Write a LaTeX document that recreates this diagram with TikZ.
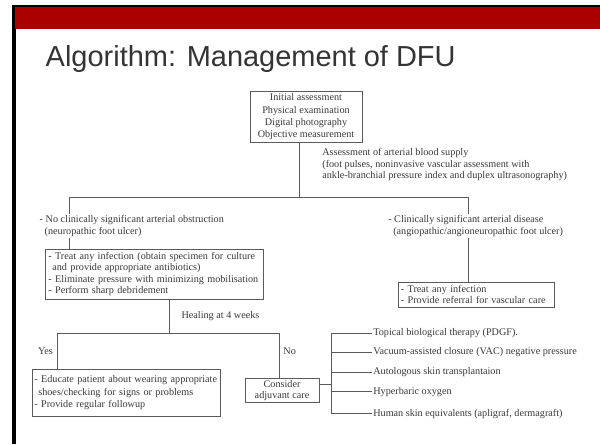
\documentclass[tikz,border=0pt]{standalone}
\usepackage{fontspec}
\setmainfont{Liberation Serif}
\newfontfamily\titlefont{Liberation Sans}
\definecolor{slidered}{HTML}{AA0000}
\definecolor{ink}{HTML}{3A3A3A}
\definecolor{rulegray}{HTML}{5A5A5A}

\begin{document}
\begin{tikzpicture}
	 [x=1pt,y=-1pt,every node/.style={inner sep=1pt,text=ink,font=\fontsize{10.2}{11.5}\selectfont},
	  box/.style={draw=rulegray,line width=0.8pt,inner sep=3pt},
	  every path/.style={draw=rulegray,line width=0.8pt}]
	\useasboundingbox (0,0) rectangle (600,444);

	% slide frame and title
	\fill[white] (0,0) rectangle (600,444);
	\fill[black] (12,5) rectangle (600,7);
	\fill[black] (12,5) rectangle (15,444);
	\fill[slidered] (15,7) rectangle (600,28);
	\node[anchor=base west,inner sep=0pt,text=ink!90!black,font=\titlefont\fontsize{29}{30}\selectfont] (title) at (45,66) {Algorithm: Management of DFU};

	  \node (init)[box,align=center,minimum width=112,minimum height=51,inner sep=1pt,font=\fontsize{10.2}{12.2}\selectfont] at (306,116.5)
	    {Initial assessment\\Physical examination\\Digital photography\\Objective measurement};
	  \node (assess)[anchor=north west,align=left] at (321,147)
	    {Assessment of arterial blood supply\\(foot pulses, noninvasive vascular assessment with\\ankle-branchial pressure index and duplex ultrasonography)};

	  \node (noobs)[anchor=north west,align=left] at (38,214)
	    {- No clinically significant arterial obstruction\\\hspace*{5pt}(neuropathic foot ulcer)};
	  \node (disease)[anchor=north west,align=left] at (387,214)
	    {- Clinically significant arterial disease\\\hspace*{5pt}(angiopathic/angioneuropathic foot ulcer)};

	  \node (treat)[box,align=left,text width=212,minimum height=46] at (154,274)
	    {- Treat any infection (obtain specimen for culture\\\hspace*{4pt}and provide appropriate antibiotics)\\- Eliminate pressure with minimizing mobilisation\\- Perform sharp debridement};
	  \node (refer)[box,align=left,text width=152,minimum height=25,inner sep=2pt,font=\fontsize{10.2}{10.5}\selectfont] at (477,294.5)
	    {- Treat any infection\\- Provide referral for vascular care};

	  \node (heal)[anchor=north west] at (180,310) {Healing at 4 weeks};
	  \node (yes)[anchor=east] at (54,351) {Yes};
	  \node (no)[anchor=west] at (282,351) {No};

	  \node (educ)[box,align=left,text width=184,minimum height=48,inner sep=2pt,font=\fontsize{10.2}{12.5}\selectfont] at (126,393)
	    {- Educate patient about wearing appropriate\\\hspace*{4pt}shoes/checking for signs or problems\\- Provide regular followup};
	  \node (cons)[box,align=center,minimum width=74,minimum height=25,inner sep=1pt] at (282,390.5)
	    {Consider\\adjuvant care};

	  \node (t1)[anchor=west] at (372,333) {Topical biological therapy (PDGF).};
	  \node (t2)[anchor=west] at (372,352) {Vacuum-assisted closure (VAC) negative pressure};
	  \node (t3)[anchor=west] at (372,372) {Autologous skin transplantaion};
	  \node (t4)[anchor=west] at (372,392) {Hyperbaric oxygen};
	  \node (t5)[anchor=west] at (372,414) {Human skin equivalents (apligraf, dermagraft)};

	% junctions
	\coordinate (j1) at (299,197);
	\coordinate (jl) at (69,197);
	\coordinate (jr) at (469,197);
	\coordinate (j2) at (169,333);
	\coordinate (jy) at (57,333);
	\coordinate (jn) at (279,333);
	\coordinate (jb) at (331,385);
	\coordinate (vt) at (331,333);
	\coordinate (vb) at (331,414);

	\draw (j1 |- init.south) -- (j1);
	\draw (jl) -- (jr);
	\draw (jl) -- (jl |- noobs.north);
	\draw (jl |- noobs.south) -- (jl |- treat.north);
	\draw (jr) -- (jr |- disease.north);
	\draw (jr |- disease.south) -- (jr |- refer.north);

	\draw (j2 |- treat.south) -- (j2);
	\draw (jy) -- (jn);
	\draw (jy) -- (jy |- educ.north);
	\draw (jn) -- (jn |- cons.north);

	\draw (cons.east |- jb) -- (jb);
	\draw (vt) -- (vb);
	\foreach \t in {t1,t2,t3,t4,t5}
    \draw (vt |- \t.west) -- (\t.west);

\end{tikzpicture}
\end{document}
